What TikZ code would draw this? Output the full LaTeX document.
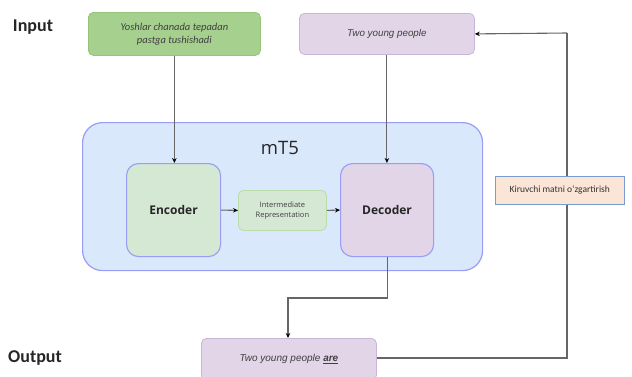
\documentclass[tikz,border=0pt]{standalone}
\usepackage{fontspec}
\setmainfont{Liberation Sans}
\newfontfamily\calib{Carlito}
\newfontfamily\opens{Open Sans}
\usetikzlibrary{arrows.meta}
\definecolor{inpgreen}{HTML}{A6D08E}
\definecolor{inpgreenline}{HTML}{96C27C}
\definecolor{lilac}{HTML}{E1D5E7}
\definecolor{lilacline}{HTML}{C9B6D6}
\definecolor{paleblue}{HTML}{DAE8FC}
\definecolor{bluepurple}{HTML}{9A9CF5}
\definecolor{palegreen}{HTML}{D5E8D4}
\definecolor{palegreenline}{HTML}{B9DCA8}
\definecolor{peach}{HTML}{FBE5D6}
\definecolor{peachline}{HTML}{7A9BD0}
\definecolor{wire}{HTML}{666666}
\tikzset{
  box/.style={rectangle, rounded corners=5pt, line width=0.8pt, inner sep=0pt, anchor=north west},
  flow/.style={draw=wire, line width=1.1pt, -{Stealth[length=5pt,width=4.5pt,black]}},
  plain/.style={draw=wire, line width=1.1pt},
  side/.style={font=\calib\bfseries\fontsize{18}{20}\selectfont, text=black!85}
}
\begin{document}
\begin{tikzpicture}[x=1pt,y=-1pt]
\useasboundingbox (0,0) rectangle (632,376);
\clip (0,0) rectangle (632,376);

% row labels
\node[side] (inlbl) at (33,27) {Input};
\node[side] (outlbl) at (35,358) {Output};

% input boxes
\node[box, draw=inpgreenline, fill=inpgreen, minimum width=172pt, minimum height=43pt,
      align=center, font=\calib\itshape\fontsize{10.5}{13}\selectfont, text=black!75] (src) at (88,12)
      {Yoshlar chanada tepadan\\pastga tushishadi};
\node[box, draw=lilacline, fill=lilac, minimum width=175pt, minimum height=41pt,
      font=\itshape\fontsize{9.8}{12}\selectfont, text=black!75] (prefix) at (299,13) {Two young people};

% model container
\node[box, rounded corners=20pt, draw=bluepurple, line width=1.2pt, fill=paleblue, minimum width=400pt, minimum height=148pt] (mt5) at (82,122) {};
\node[font=\opens\fontsize{18.5}{20}\selectfont, text=black!85] (mt5lbl) at (280,148) {mT5};

\node[box, rounded corners=12pt, draw=bluepurple, line width=1.1pt, fill=palegreen, minimum width=94pt, minimum height=93pt,
      font=\opens\bfseries\fontsize{12}{14}\selectfont, text=black!85] (enc) at (126,163) {Encoder};
\node[box, rounded corners=5pt, draw=palegreenline, fill=palegreen, minimum width=88pt, minimum height=40pt,
      align=center, font=\opens\fontsize{7.5}{9.5}\selectfont, text=black!75] (inter) at (238,190) {Intermediate\\Representation};
\node[box, rounded corners=12pt, draw=bluepurple, line width=1.1pt, fill=lilac, minimum width=93pt, minimum height=93pt,
      font=\opens\bfseries\fontsize{12}{14}\selectfont, text=black!85] (dec) at (340,163) {Decoder};

% output box
\node[box, draw=lilacline, fill=lilac, minimum width=175pt, minimum height=42pt,
      font=\itshape\fontsize{10}{12}\selectfont, text=black!75] (out) at (201,338)
      {Two young people \textbf{\underline{are}}};

% feedback path
\coordinate (fbtop) at (567,33);
\coordinate (fbbot) at (567,358);
\draw[plain] (out.east |- 0,358) -- (fbbot) -- (fbtop);
\draw[flow] (fbtop) -- (prefix.east);
\node[box, rounded corners=0pt, draw=peachline, line width=0.6pt, fill=peach, minimum width=129pt, minimum height=28pt,
      font=\calib\fontsize{9.5}{11}\selectfont, text=black!80] (edit) at (495,176) {Kiruvchi matni o‘zgartirish};

% connectors
\draw[flow] (src.south) -- (enc.north -| src.south);
\draw[flow] (prefix.south) -- (dec.north -| prefix.south);
\draw[flow] (enc.east) -- (inter.west);
\draw[flow] (inter.east) -- (dec.west);
\coordinate (bend) at (288,298);
\draw[flow] (dec.south) |- (bend) -- (out.north -| bend);
\end{tikzpicture}
\end{document}
